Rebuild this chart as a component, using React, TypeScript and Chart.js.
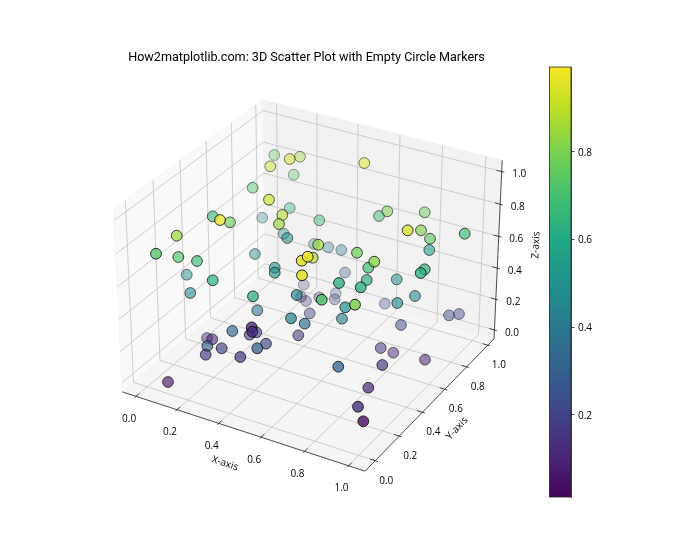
import React, { useEffect, useRef } from "react";
import { Chart, registerables } from "chart.js";

Chart.register(...registerables);

const titleText = "How2matplotlib.com: 3D Scatter Plot with Empty Circle Markers";
const xAxisName = "X-axis";
const yAxisName = "Y-axis";
const zAxisName = "Z-axis";
const boxTicks = [0, 0.2, 0.4, 0.6, 0.8, 1];
const colorbarTicks = [0.2, 0.4, 0.6, 0.8];

// Marker positions on the picture plane, their colour value, and depth shading.
const planeX = [274.3,289.7,300,270.3,293.7,252.7,269,289.7,282.3,262.3,279,319.3,212.7,220,230,176.7,156,178.3,197,283.7,287.3,314,318.3,255,301.7,307.7,312.7,274.7,364.3,379,387.3,424.7,407.7,421,430,464.7,429.3,328.3,341.3,357,374.3,368.3,424.7,420.7,345,339,366.7,360.7,396.7,415,335.7,334.7,321.7,355,345.3,384.7,397.3,342,401,449,459,380.7,393.3,382.3,425,338.3,368.3,358,363.3,186.7,212.7,190.3,253,274.7,302,303.7,296.7,301,306,319.3,257.3,309.7,291,304.7,232.3,298.3,251.7,252.3,249.7,256.3,266,257.3,207,212.3,207.3,221.7,205.7,240.3,168];
const planeY = [155,159,156.7,166.3,174.7,187.7,199.7,208,215,217.7,224,220.3,216.3,220,222.3,235.7,253.7,257,261,233.7,238,244,244.7,254,260.7,256.7,257.7,267.7,163,216,211.3,212.3,230.3,230.3,238.7,233.7,250,247.3,250,252.7,261.7,267.7,269.3,273,272.5,283,280,287.3,279.3,296,293.3,299.3,299.7,304.7,307.3,303.7,303,318.7,325,315.3,314,348,352.7,365,359.7,366.7,387.7,406.7,421.3,274.7,280.3,293,296.3,272.7,275.3,284.7,295,296.7,301,297.3,310.3,313.3,318.3,323.7,331,335.3,327.3,331.7,334.7,332.3,343.7,348.3,338,339.3,346,348.3,354.7,357,382];
const colorValue = [0.75,0.93,0.85,0.9,0.75,0.72,0.93,0.62,0.88,0.45,0.85,0.68,0.65,0.97,0.78,0.85,0.72,0.72,0.68,0.52,0.5,0.42,0.85,0.47,0.95,0.98,0.88,0.5,0.95,0.68,0.8,0.77,0.94,0.8,0.75,0.68,0.57,0.4,0.42,0.77,0.82,0.67,0.65,0.63,0.25,0.62,0.57,0.62,0.47,0.47,0.25,0.22,0.72,0.8,0.52,0.22,0.47,0.42,0.22,0.22,0.22,0.15,0.1,0.17,0.08,0.32,0.13,0.13,0.03,0.47,0.6,0.45,0.62,0.5,0.95,0.2,0.45,0.18,0.13,0.2,0.38,0.18,0.45,0.37,0.33,0.18,0.08,0.12,0.2,0.2,0.22,0.3,0.08,0.1,0.28,0.2,0.18,0.18,0.05];
const depthShade = [0.4,0.6,0.5,0.55,0.45,0.55,0.75,0.45,0.7,0.4,0.75,0.55,0.7,0.9,0.75,0.85,0.9,0.8,0.8,0.5,0.65,0.4,0.8,0.55,1,1,0.85,0.7,0.6,0.6,0.65,0.6,0.9,0.75,0.75,0.8,0.7,0.4,0.45,0.8,0.9,0.8,0.85,0.9,0.4,0.9,0.75,0.9,0.65,0.7,0.35,0.4,1,1,0.85,0.4,0.75,0.75,0.6,0.55,0.55,0.65,0.6,0.8,0.65,0.9,0.85,0.95,0.95,0.6,0.8,0.7,0.85,0.75,1,0.35,0.8,0.45,0.4,0.45,0.7,0.55,0.85,0.8,0.8,0.7,0.9,0.9,0.75,0.75,0.8,0.9,0.55,0.7,0.75,0.8,0.8,0.85,0.75];

const viridisStops = ["#440154","#482475","#414487","#355f8d","#2a788e","#21918c","#22a884","#44bf70","#7ad151","#bddf26","#fde725"];
const FONT = '"Open Sans", "Noto Sans", sans-serif';
const TITLE_FONT = 'Roboto, "Open Sans", sans-serif';

function hexRgb(h: string) {
  return [1, 3, 5].map((i) => parseInt(h.slice(i, i + 2), 16));
}
function viridis(t: number, a = 1) {
  const p = Math.max(0, Math.min(0.9999, t)) * (viridisStops.length - 1);
  const i = Math.floor(p);
  const f = p - i;
  const c0 = hexRgb(viridisStops[i]);
  const c1 = hexRgb(viridisStops[i + 1]);
  const c = c0.map((v, k) => Math.round(v + (c1[k] - v) * f));
  return `rgba(${c[0]},${c[1]},${c[2]},${a})`;
}

// perspective projection of the box (elevation 30, azimuth -60, distance 10)
const BOX = [1.1905, 1.1905, 0.8929];
const LIM = { x: [-0.068, 1.074], y: [-0.083, 1.06], z: [-0.058, 1.068] };
const PX_SCALE = 2336;
const PX_CX = 311.6;
const PX_CY = 276.5;
function project(x: number, y: number, z: number): [number, number] {
  const q = [
    ((x - LIM.x[0]) / (LIM.x[1] - LIM.x[0]) - 0.5) * BOX[0],
    ((y - LIM.y[0]) / (LIM.y[1] - LIM.y[0]) - 0.5) * BOX[1],
    ((z - LIM.z[0]) / (LIM.z[1] - LIM.z[0]) - 0.5) * BOX[2],
  ];
  const u = 0.866025 * q[0] + 0.5 * q[1];
  const v = -0.25 * q[0] + 0.433013 * q[1] + 0.866025 * q[2];
  const w = 0.433013 * q[0] - 0.75 * q[1] + 0.5 * q[2];
  const d = 10 - w;
  return [PX_CX + (PX_SCALE * u) / d, PX_CY - (PX_SCALE * v) / d];
}

const order = planeX.map((_, i) => i).sort((a, b) => depthShade[a] - depthShade[b]);
const points = order.map((i) => ({ x: planeX[i], y: planeY[i], v: colorValue[i], s: depthShade[i] * 0.84 }));

const boxPlugin = {
  id: "box3d",
  beforeDatasetsDraw(chart: any) {
    const { ctx, scales } = chart;
    const toPx = (p: [number, number]): [number, number] => [scales.x.getPixelForValue(p[0]), scales.y.getPixelForValue(p[1])];
    const P = (x: number, y: number, z: number) => toPx(project(x, y, z));
    const [x0, x1] = LIM.x;
    const [y0, y1] = LIM.y;
    const [z0, z1] = LIM.z;
    const poly = (pts: [number, number][], fill: string) => {
      ctx.beginPath();
      pts.forEach((p, i) => (i ? ctx.lineTo(p[0], p[1]) : ctx.moveTo(p[0], p[1])));
      ctx.closePath();
      ctx.fillStyle = fill;
      ctx.fill();
      ctx.strokeStyle = "rgba(242,242,242,1)";
      ctx.lineWidth = 0.8;
      ctx.stroke();
    };
    const path = (pts: [number, number][], color: string, lw = 0.8) => {
      ctx.beginPath();
      pts.forEach((p, i) => (i ? ctx.lineTo(p[0], p[1]) : ctx.moveTo(p[0], p[1])));
      ctx.strokeStyle = color;
      ctx.lineWidth = lw;
      ctx.stroke();
    };
    ctx.save();
    poly([P(x0, y0, z0), P(x0, y1, z0), P(x0, y1, z1), P(x0, y0, z1)], "#f9f9f9");
    poly([P(x0, y1, z0), P(x1, y1, z0), P(x1, y1, z1), P(x0, y1, z1)], "#f2f2f2");
    poly([P(x0, y0, z0), P(x1, y0, z0), P(x1, y1, z0), P(x0, y1, z0)], "#f5f5f5");
    const grid = "#c4c4c4";
    boxTicks.forEach((t) => {
      path([P(t, y0, z0), P(t, y1, z0), P(t, y1, z1)], grid);
      path([P(x1, t, z0), P(x0, t, z0), P(x0, t, z1)], grid);
      path([P(x0, y0, t), P(x0, y1, t), P(x1, y1, t)], grid);
    });
    const ink = "#222222";
    path([P(x0, y0, z0), P(x1, y0, z0)], ink);
    path([P(x1, y0, z0), P(x1, y1, z0)], ink);
    path([P(x1, y1, z0), P(x1, y1, z1)], ink);
    ctx.font = `10px ${FONT}`;
    ctx.fillStyle = "#000";
    ctx.textAlign = "center";
    ctx.textBaseline = "middle";
    boxTicks.forEach((t) => {
      path([P(t, y0 - 0.012, z0), P(t, y0 + 0.024, z0)], ink);
      path([P(x1 + 0.012, t, z0), P(x1 - 0.024, t, z0)], ink);
      path([P(x1 + 0.012, y1, t), P(x1 - 0.024, y1, t)], ink);
      const a = P(t, y0, z0);
      ctx.fillText(t.toFixed(1), a[0] - 7, a[1] + 22.5);
      const b = P(x1, t, z0);
      ctx.fillText(t.toFixed(1), b[0] + 11, b[1] + 20);
      const c = P(x1, y1, t);
      ctx.fillText(t.toFixed(1), c[0] + 17.5, c[1] + 3);
    });
    const label = (text: string, px: number, py: number, deg: number) => {
      const p = toPx([px, py]);
      ctx.save();
      ctx.translate(p[0], p[1]);
      ctx.rotate((deg * Math.PI) / 180);
      ctx.fillText(text, 0, 0);
      ctx.restore();
    };
    label(xAxisName, 225, 463.5, 18);
    label(yAxisName, 457, 428.5, -47);
    label(zAxisName, 536, 245, -87);
    // colour bar, in the value range of its own axis
    const cb = scales.cb;
    const barRight = cb.left;
    const barLeft = barRight - 21.5;
    const g = ctx.createLinearGradient(0, cb.bottom, 0, cb.top);
    for (let i = 0; i <= 40; i++) {
      const f = i / 40;
      g.addColorStop(f, viridis(cb.min + (cb.max - cb.min) * f));
    }
    ctx.fillStyle = g;
    ctx.fillRect(barLeft, cb.top, barRight - barLeft, cb.bottom - cb.top);
    ctx.strokeStyle = "#222";
    ctx.lineWidth = 0.8;
    ctx.strokeRect(barLeft, cb.top, barRight - barLeft, cb.bottom - cb.top);
    ctx.restore();
  },
};

export default function App() {
  const ref = useRef<HTMLCanvasElement>(null);
  useEffect(() => {
    document.body.style.margin = "0";
    const chart = new Chart(ref.current as HTMLCanvasElement, {
      type: "scatter",
      data: {
        datasets: [
          {
            label: "points",
            data: points as any,
            yAxisID: "y",
            xAxisID: "x",
            pointRadius: 5.4,
            pointHoverRadius: 5.4,
            borderWidth: 1,
            pointBackgroundColor: (c: any) => viridis(c.raw?.v ?? 0, c.raw?.s ?? 1),
            pointBorderColor: (c: any) => `rgba(0,0,0,${c.raw?.s ?? 1})`,
            clip: false,
          } as any,
        ],
      },
      options: {
        responsive: false,
        animation: false,
        layout: { padding: { left: 42, right: 0, top: 0, bottom: 63 } },
        plugins: {
          legend: { display: false },
          tooltip: { enabled: false },
          title: {
            display: true,
            text: titleText,
            fullSize: false,
            color: "#000",
            font: { family: TITLE_FONT, size: 12.6, weight: "normal", lineHeight: 1.2 },
            padding: { top: 50, bottom: 1.9 },
          },
        },
        scales: {
          x: { type: "linear", display: false, min: 42, max: 571 },
          y: { type: "linear", display: false, min: 67, max: 497, reverse: true },
          cb: {
            type: "linear",
            position: "right",
            min: 0.013,
            max: 0.993,
            afterFit: (s: any) => {
              s.width = 129;
            },
            afterBuildTicks: (s: any) => {
              s.ticks = colorbarTicks.map((value) => ({ value }));
            },
            border: { color: "#222", width: 0.8 },
            grid: { drawOnChartArea: false, drawTicks: true, tickLength: 3.5, tickWidth: 0.8, tickColor: "#222" },
            ticks: {
              color: "#000",
              font: { family: FONT, size: 10 },
              padding: 3.5,
              labelOffset: 1,
              callback: (v: any) => Number(v).toFixed(1),
            },
          } as any,
        },
      },
      plugins: [boxPlugin],
    });
    return () => chart.destroy();
  }, []);
  return (
    <div style={{ position: "absolute", left: 0, top: 0, width: 700, height: 560 }}>
      <canvas ref={ref} width={700} height={560} style={{ display: "block" }} />
    </div>
  );
}
